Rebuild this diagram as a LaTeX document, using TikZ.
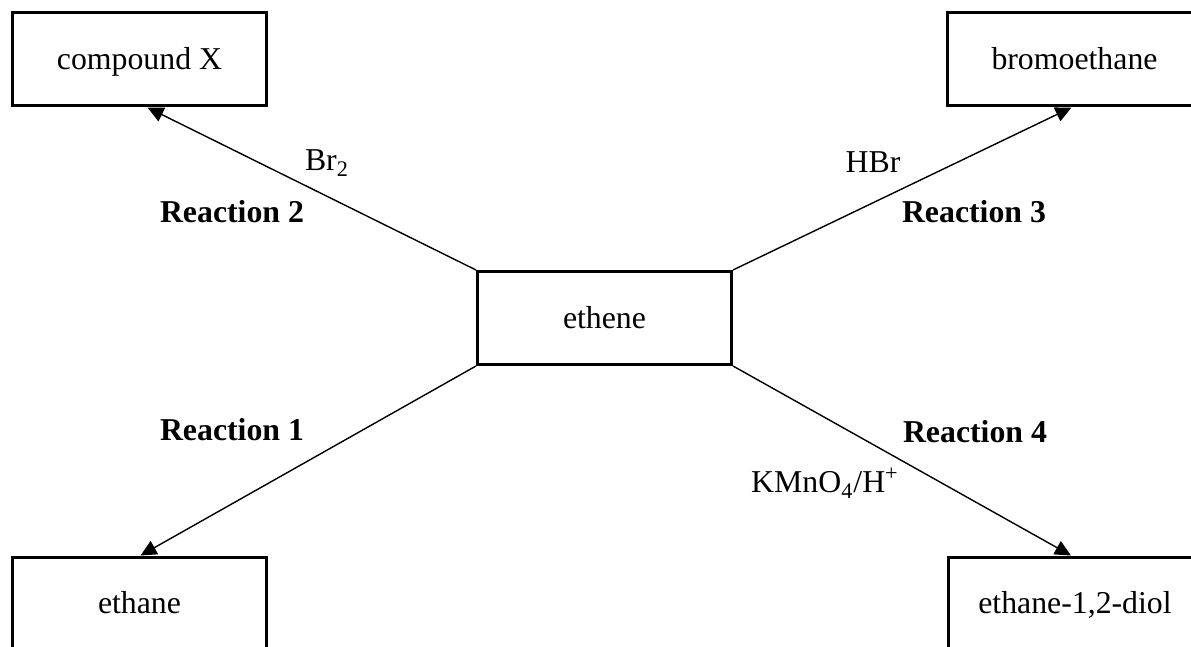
\documentclass[tikz,border=0pt]{standalone}
\usepackage{fontspec}
\setmainfont{Liberation Serif}
\usetikzlibrary{arrows.meta,calc}
\tikzset{
  chembox/.style={draw, line width=1.5pt, minimum width=127pt, minimum height=46.5pt, inner sep=0pt, text depth=1pt, font=\fontsize{15.9}{19}\selectfont},
  arr/.style={line width=0.7pt, -{Triangle[length=8pt,width=7.5pt]}},
  lbl/.style={inner sep=0pt, font=\fontsize{15.9}{19}\selectfont},
  rlbl/.style={inner sep=0pt, font=\fontsize{15.9}{19}\selectfont\bfseries},
}
\begin{document}
\begin{tikzpicture}[x=0.5pt,y=-0.5pt]
\useasboundingbox (0,0) rectangle (1191,647);
\node[chembox] (cx) at (139.5,59.5) {compound X};
\node[chembox] (bro) at (1074.5,59.5) {bromoethane};
\node[chembox] (eth) at (604.5,318) {ethene};
\node[chembox] (ane) at (139.5,603.5) {ethane};
\node[chembox] (diol) at (1075,603.5) {ethane-1,2-diol};
\draw[arr] (eth.north west) -- ($(cx.south)+(8,0)$);
\draw[arr] (eth.north east) -- ($(bro.south)+(-3,0)$);
\draw[arr] (eth.south west) -- ($(ane.north)+(1,0)$);
\draw[arr] (eth.south east) -- ($(diol.north)+(-4,0)$);
\node[lbl] (br2) at (327,163) {Br\textsubscript{2}};
\node[rlbl] (r2) at (232,212) {Reaction 2};
\node[lbl] (hbr) at (873,162) {HBr};
\node[rlbl] (r3) at (974,212) {Reaction 3};
\node[rlbl] (r1) at (232,430) {Reaction 1};
\node[rlbl] (r4) at (975,432) {Reaction 4};
\node[lbl] (kmn) at (825,483) {KMnO\textsubscript{4}/H\textsuperscript{+}};
\end{tikzpicture}
\end{document}
